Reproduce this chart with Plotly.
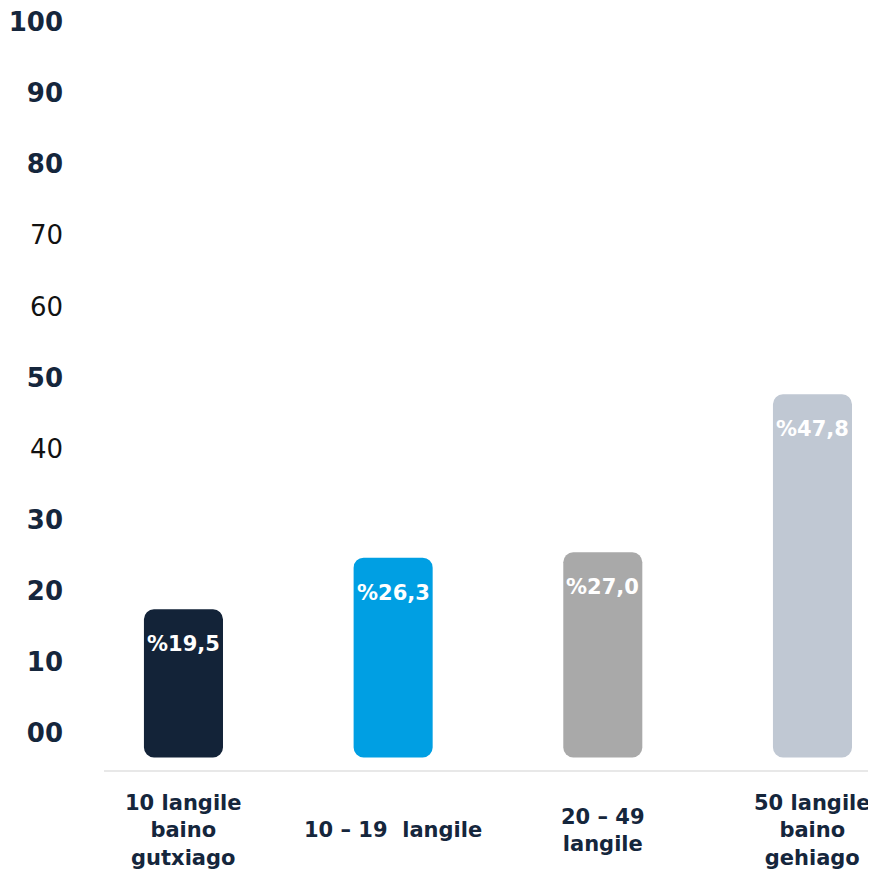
import plotly.graph_objects as go

categories = ["10 langile<br>baino<br>gutxiago", "10 – 19  langile", "20 – 49<br>langile", "50 langile<br>baino<br>gehiago"]
values = [19.5, 26.3, 27.0, 47.8]
bar_colors = ["#132338", "#009fe3", "#a9a9a9", "#c0c8d3"]
tick_values = [0, 10, 20, 30, 40, 50, 60, 70, 80, 90, 100]
tick_labels = ["00", "10", "20", "30", "40", "50", "60", "70", "80", "90", "100"]
light_ticks = {"40", "60", "70"}

NAVY = "#15263c"
FONT = "DejaVu Sans"
xpos = list(range(len(categories)))

fig = go.Figure()
fig.add_trace(go.Bar(x=xpos, y=values, base=[0] * len(values),
                     marker=dict(color=bar_colors, line=dict(width=0)), width=0.377,
                     hoverinfo="skip", showlegend=False))
# invisible trace anchoring the tick axis
fig.add_trace(go.Scatter(x=[0], y=[0], yaxis="y2", mode="markers",
                         marker=dict(opacity=0), hoverinfo="skip", showlegend=False))

ticktext = []
for t in tick_labels:
    if t in light_ticks:
        ticktext.append(f"<span style='color:#111111'>{t}</span>")
    else:
        ticktext.append(f"<b>{t}</b>")

annotations = []
for i, v in enumerate(values):
    annotations.append(dict(x=i, y=v, xref="x", yref="y", text="<b>%" + f"{v:.1f}".replace(".", ",") + "</b>",
                            showarrow=False, yanchor="middle", yshift=-35,
                            font=dict(family=FONT, size=21, color="white")))
for i, c in enumerate(categories):
    annotations.append(dict(x=i, y=0, xref="x", yref="paper", text="<b>" + c.replace("<br>", "</b><br><b>") + "</b>",
                            showarrow=False, yanchor="middle", yshift=-60, align="center",
                            font=dict(family=FONT, size=21, color=NAVY)))

fig.update_layout(
    width=868, height=862,
    margin=dict(l=96, r=0, t=2, b=100),
    paper_bgcolor="white", plot_bgcolor="white",
    barcornerradius=10,
    xaxis=dict(range=[-0.379, 3.303], showticklabels=False, showgrid=False, zeroline=False,
               showline=True, linecolor="#e8e8e8", linewidth=2, ticks=""),
    yaxis=dict(range=[-1.645, 98.36], visible=False, showgrid=False, zeroline=False),
    yaxis2=dict(range=[-5.20, 101.69], overlaying="y", side="left", anchor="x",
                tickvals=tick_values, ticktext=ticktext, showgrid=False, zeroline=False,
                showline=False, ticks="", ticklabelstandoff=40, ticklabeloverflow="allow",
                tickfont=dict(family=FONT, size=26, color=NAVY)),
    annotations=annotations,
)

fig.write_html("out.html")
